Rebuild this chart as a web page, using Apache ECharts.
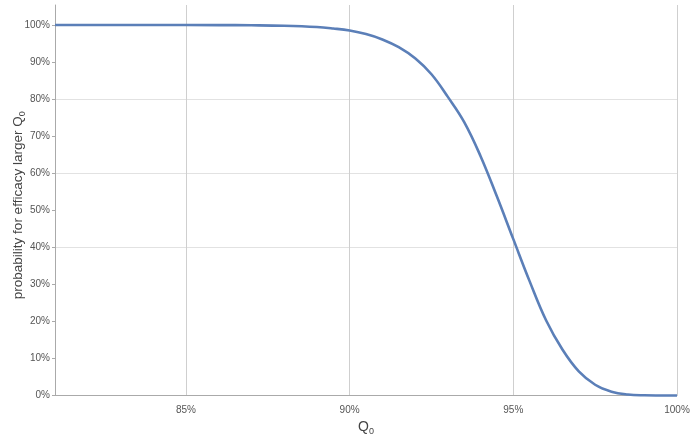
<!DOCTYPE html>
<html>
<head>
<meta charset="utf-8">
<script src="https://cdn.jsdelivr.net/npm/echarts@6/dist/echarts.min.js"></script>
<style>html,body{margin:0;padding:0;background:#fff}#c{width:695px;height:443px}</style>
</head>
<body>
<div id="c"></div>
<script>
// Q0 values (%) and probability for efficacy larger than Q0 (%)
const q0 = [81, 84, 86, 87, 88, 89, 89.5, 90, 90.5, 91, 91.5, 92, 92.5, 93, 93.5, 94, 94.5, 95, 95.5, 96, 96.5, 97, 97.5, 98, 98.5, 99, 99.5, 100];
const prob = [100, 100, 99.98, 99.93, 99.8, 99.45, 99.05, 98.5, 97.55, 96.1, 94.0, 91.0, 86.7, 80.6, 73.8, 64.6, 53.7, 42.2, 30.8, 20.3, 12.4, 6.5, 2.9, 1.0, 0.25, 0.05, 0.01, 0];
const xTicks = [85, 90, 95, 100];
const yTicks = [0, 10, 20, 30, 40, 50, 60, 70, 80, 90, 100];
const yGrid = [20, 40, 60, 80, 100];

const chart = echarts.init(document.getElementById('c'), null, {renderer: 'canvas'});
const FONT = 'Liberation Sans, Arial, sans-serif';
const labelStyle = {color: '#555', fontSize: 10, fontFamily: FONT};
chart.setOption({
  animation: false,
  grid: {left: 55, right: 18, top: 5, bottom: 47.5, containLabel: false, outerBoundsMode: 'none'},
  xAxis: {
    type: 'value', min: 81, max: 100,
    name: '{q|Q}{s|0}', nameLocation: 'middle', nameGap: 21,
    nameTextStyle: {rich: {q: {fontSize: 14, color: '#444', fontFamily: FONT}, s: {fontSize: 9, color: '#444', padding: [8,0,0,0], fontFamily: FONT}}},
    offset: 2.5,
    axisLine: {lineStyle: {color: '#aaa', width: 1}},
    axisTick: {show: false, customValues: xTicks},
    axisLabel: Object.assign({customValues: xTicks, margin: 7, formatter: v => v + '%'}, labelStyle),
    splitLine: {show: true, lineStyle: {color: '#cfcfcf', width: 1}}
  },
  yAxis: [{
    type: 'value', min: 0, max: 105.4,
    name: 'probability for efficacy larger {q|Q}{s|0}', nameLocation: 'middle', nameGap: 28, nameMoveOverlap: false,
    nameTextStyle: {fontSize: 13.5, color: '#444', fontFamily: FONT, padding: [0, 10, 0, 0],
      rich: {q: {fontSize: 13.5, color: '#444', fontFamily: FONT}, s: {fontSize: 9, color: '#444', padding: [8,0,0,0], fontFamily: FONT}}},
    axisLine: {show: true, lineStyle: {color: '#aaa', width: 1}},
    axisTick: {show: true, inside: false, length: 3, customValues: yTicks, lineStyle: {color: '#aaa'}},
    axisLabel: Object.assign({customValues: yTicks, margin: 5, formatter: v => v + '%'}, labelStyle),
    splitLine: {show: false}
  }, {
    type: 'value', min: 0, max: 105.4, position: 'left',
    axisLine: {show: false}, axisTick: {show: false, customValues: yGrid}, axisLabel: {show: false, customValues: yGrid},
    splitLine: {show: true, showMaxLine: false, showMinLine: false, lineStyle: {color: '#e2e2e2', width: 1}}
  }],
  series: [{
    type: 'line', data: q0.map((q, i) => [q, prob[i]]), smooth: 0.4, showSymbol: false,
    lineStyle: {color: '#5b7fb8', width: 2.6}, yAxisIndex: 0, clip: false
  }]
});
</script>
</body>
</html>
